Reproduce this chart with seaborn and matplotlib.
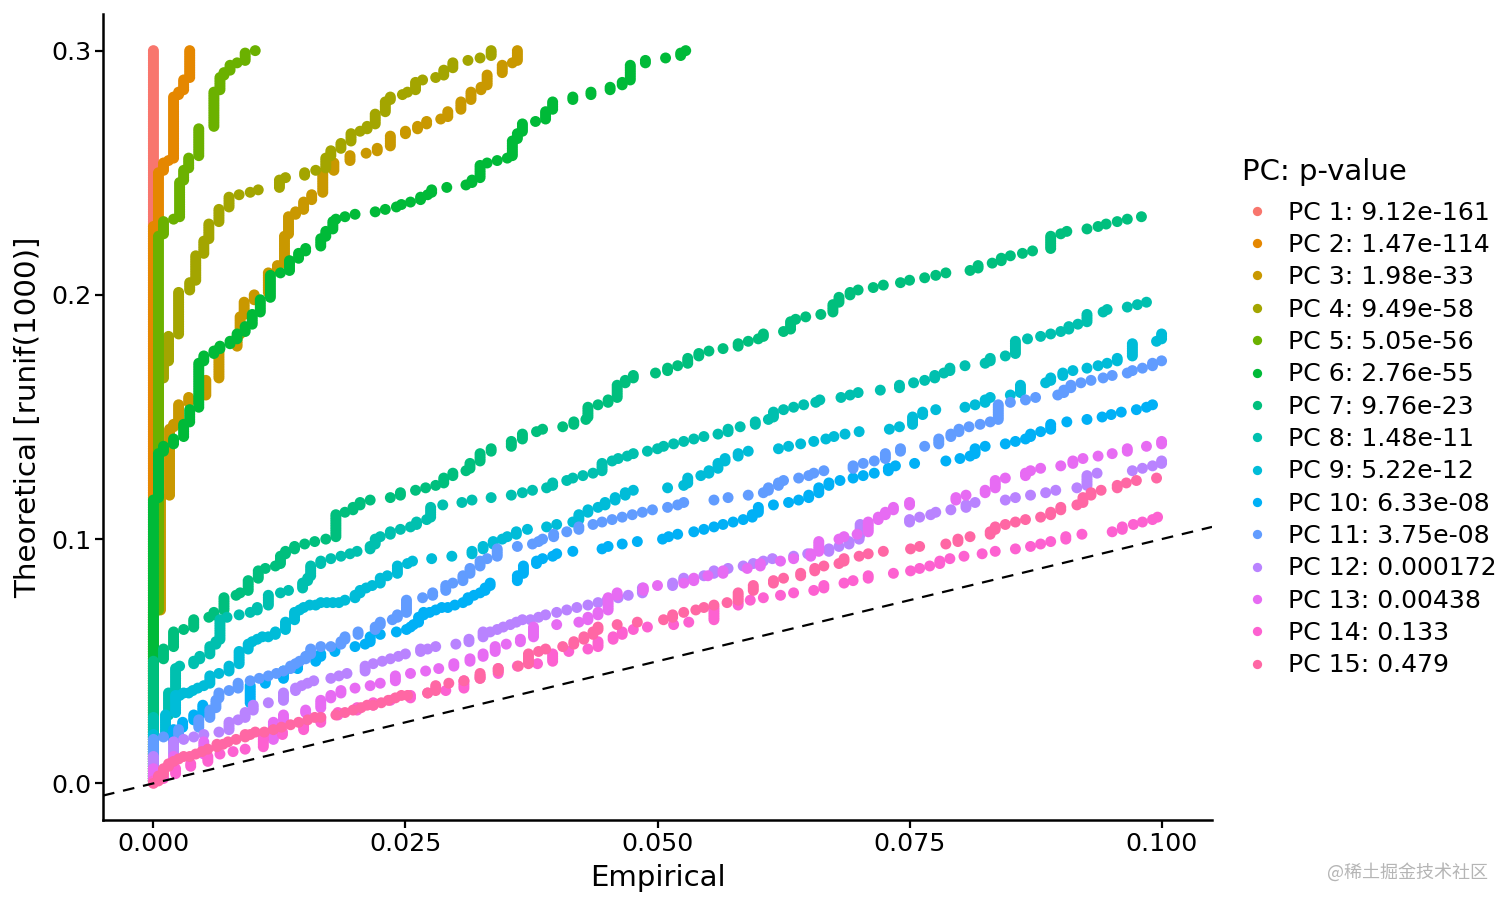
import matplotlib
matplotlib.use("Agg")
import numpy as np
import pandas as pd
import seaborn as sns
import matplotlib.pyplot as plt

# Each series: empirical value x, and the theoretical quantile y reached at that x
pc1_x = [0.0]
pc1_y = [.300]
pc2_x = [0, .0005, .001, .0015, .002, .0025, .003, .0036]
pc2_y = [.228, .250, .254, .255, .281, .283, .288, .300]
pc3_x = [0, .0007, .0016, .002, .0025, .0035, .0052, .0065, .0083, .0086, .009, .010, .0114, .0123, .013, .0134, .0141, .0149, .0157, .0168, .0179, .0195, .0211, .0222, .0235, .025, .0262, .0271, .0285, .0292, .0305, .0315, .0325, .0331, .0346, .0356, .0361]
pc3_y = [.070, .117, .145, .147, .155, .158, .165, .178, .183, .191, .197, .200, .209, .212, .224, .232, .234, .238, .241, .250, .254, .257, .258, .260, .265, .267, .269, .271, .272, .275, .279, .283, .285, .290, .294, .295, .300]
pc4_x = [0, .0005, .001, .0015, .0025, .0036, .0042, .005, .0055, .0065, .0075, .0085, .0096, .0104, .0125, .0131, .015, .0161, .0171, .0176, .0186, .0196, .0205, .0212, .022, .023, .0235, .0247, .0252, .026, .0267, .028, .0288, .0297, .0312, .0324, .0335]
pc4_y = [.100, .165, .172, .183, .201, .205, .216, .222, .229, .235, .240, .241, .242, .243, .247, .248, .250, .251, .256, .259, .262, .266, .267, .269, .274, .279, .281, .282, .283, .287, .288, .289, .292, .295, .296, .297, .300]
pc5_x = [0, .0005, .001, .002, .0026, .003, .0035, .0045, .006, .0066, .007, .0076, .0083, .0091, .0101]
pc5_y = [.070, .224, .230, .231, .246, .251, .256, .268, .283, .289, .291, .294, .295, .299, .300]
pc6_x = [0, .0005, .001, .002, .003, .0036, .0045, .005, .006, .0066, .0076, .0083, .0091, .0098, .0106, .0116, .0126, .0135, .0144, .0151, .0166, .0171, .0178, .0181, .019, .020, .022, .023, .0241, .0246, .0255, .0265, .0272, .0276, .0291, .031, .0316, .0324, .0331, .0341, .0351, .0356, .0361, .0366, .0379, .0389, .0396, .0416, .0434, .0453, .0465, .0473, .0488, .0508, .0523, .0528]
pc6_y = [.116, .135, .138, .141, .147, .153, .172, .175, .177, .179, .181, .184, .187, .192, .198, .208, .209, .214, .217, .219, .223, .226, .230, .231, .232, .233, .234, .235, .236, .237, .238, .240, .241, .243, .244, .245, .247, .253, .254, .255, .256, .263, .266, .270, .271, .275, .279, .281, .283, .285, .287, .294, .296, .297, .299, .300]
pc7_x = [0, .001, .002, .003, .004, .0055, .006, .007, .0082, .0086, .0094, .0104, .0111, .0121, .0126, .0131, .014, .015, .016, .0171, .0181, .019, .0198, .0205, .0215, .0235, .0245, .026, .027, .028, .0288, .0297, .031, .0314, .0324, .0335, .0355, .0366, .038, .0386, .0406, .0417, .0429, .0431, .0441, .0451, .046, .0468, .0476, .0498, .051, .052, .053, .0541, .0551, .0565, .058, .059, .060, .0605, .0625, .0632, .0637, .0647, .0662, .0674, .068, .0691, .0699, .0714, .0724, .0741, .075, .0765, .0776, .0786, .081, .0818, .0832, .0841, .085, .0862, .0872, .089, .090, .0906, .0926, .0937, .0945, .0956, .0966, .098]
pc7_y = [.050, .055, .062, .063, .067, .068, .070, .076, .077, .078, .083, .087, .088, .089, .093, .095, .097, .098, .099, .100, .110, .111, .113, .115, .116, .117, .119, .120, .121, .122, .125, .127, .128, .131, .135, .137, .140, .143, .144, .145, .146, .148, .149, .154, .155, .157, .163, .165, .167, .168, .170, .171, .174, .176, .177, .178, .180, .181, .182, .184, .185, .189, .190, .191, .192, .196, .199, .201, .202, .203, .204, .205, .206, .207, .208, .209, .210, .212, .213, .215, .216, .217, .218, .224, .225, .226, .227, .228, .229, .230, .231, .232]
pc8_x = [0, .0015, .0022, .0026, .004, .0046, .0056, .0062, .0066, .0073, .0085, .0096, .0103, .0114, .0126, .0134, .0148, .0153, .0156, .0166, .0176, .0186, .0195, .0202, .0215, .022, .0225, .0235, .0245, .0255, .0261, .0271, .0275, .0287, .0306, .0316, .0335, .0355, .0366, .0376, .039, .0396, .041, .0416, .0426, .0436, .0445, .0455, .0461, .047, .0476, .049, .050, .0506, .0516, .0526, .0536, .0546, .056, .057, .0582, .0597, .061, .0615, .0625, .0635, .0645, .0657, .0661, .0682, .0691, .0699, .0721, .074, .0754, .0765, .0775, .0784, .079, .0805, .0825, .083, .0845, .0855, .0867, .088, .089, .090, .0908, .0917, .0926, .0942, .0946, .0966, .0976, .0985]
pc8_y = [.027, .037, .047, .048, .050, .052, .056, .058, .067, .068, .069, .070, .072, .077, .078, .079, .082, .084, .089, .091, .092, .093, .094, .095, .097, .100, .101, .103, .104, .105, .107, .108, .113, .114, .115, .116, .117, .118, .119, .120, .121, .123, .124, .125, .126, .127, .131, .132, .133, .134, .135, .136, .137, .138, .139, .140, .141, .142, .143, .145, .146, .148, .149, .152, .153, .154, .155, .156, .157, .158, .159, .160, .161, .163, .164, .165, .167, .168, .170, .171, .172, .174, .175, .181, .182, .183, .184, .185, .187, .188, .192, .193, .194, .195, .196, .197]
pc9_x = [0, .0012, .0022, .0026, .003, .0035, .0039, .0044, .005, .0056, .0065, .0075, .0085, .0094, .0098, .0103, .0108, .0114, .0121, .0131, .014, .0145, .0149, .0155, .0161, .0166, .0172, .0178, .0184, .019, .020, .0205, .0211, .0217, .0225, .0232, .0242, .0252, .0257, .0276, .0296, .0316, .0327, .0337, .0346, .0351, .036, .0371, .039, .040, .0416, .0422, .0431, .0441, .0448, .0458, .0468, .0476, .051, .0526, .053, .0543, .0551, .056, .0567, .058, .059, .062, .063, .0642, .0655, .0667, .0675, .0686, .070, .073, .074, .0753, .0763, .0776, .0805, .0815, .0825, .083, .085, .086, .0885, .089, .0902, .0912, .0926, .0937, .0946, .0956, .0971, .0995, .100]
pc9_y = [.020, .028, .036, .036, .037, .037, .038, .039, .040, .044, .045, .048, .054, .057, .058, .059, .060, .060, .062, .066, .070, .071, .072, .073, .073, .074, .074, .074, .074, .075, .077, .079, .080, .081, .084, .085, .089, .090, .091, .092, .093, .095, .097, .099, .100, .101, .103, .104, .105, .106, .107, .110, .112, .113, .115, .117, .119, .120, .121, .122, .125, .126, .128, .131, .133, .135, .136, .137, .138, .139, .140, .141, .142, .143, .144, .145, .146, .150, .152, .153, .154, .155, .157, .158, .159, .163, .164, .166, .168, .169, .170, .171, .172, .174, .180, .181, .184]
pc10_x = [0, .002, .0029, .004, .0049, .0096, .0111, .0129, .0143, .0161, .0166, .018, .020, .021, .0215, .0225, .0241, .0251, .0255, .0258, .0263, .0268, .0274, .028, .0286, .0292, .0299, .0307, .0312, .0318, .0324, .0329, .0334, .0361, .0367, .038, .0386, .0396, .040, .0416, .0445, .0451, .0465, .048, .0505, .0511, .052, .0536, .0546, .0556, .0565, .0575, .0585, .0594, .060, .0615, .063, .064, .065, .066, .067, .0681, .0694, .0704, .0715, .0729, .0736, .0755, .0786, .080, .081, .0815, .0825, .0845, .0855, .0865, .087, .088, .089, .0906, .0926, .0941, .095, .096, .0975, .0985, .0991]
pc10_y = [.016, .022, .025, .028, .032, .040, .042, .046, .049, .051, .053, .055, .056, .057, .060, .061, .062, .063, .064, .065, .068, .070, .070, .071, .072, .072, .073, .074, .076, .077, .078, .080, .082, .085, .089, .091, .092, .093, .094, .095, .096, .097, .098, .099, .100, .101, .102, .103, .104, .105, .106, .107, .108, .110, .113, .114, .115, .116, .118, .121, .123, .124, .125, .126, .127, .129, .130, .131, .132, .133, .134, .137, .138, .139, .140, .141, .143, .144, .147, .148, .149, .150, .151, .152, .153, .154, .155]
pc11_x = [0, .001, .0025, .0045, .0056, .0062, .0065, .0075, .0084, .0096, .0105, .0114, .0122, .0129, .0136, .0141, .0145, .0151, .0156, .0166, .0176, .0186, .019, .0203, .022, .0225, .0237, .0242, .0251, .0267, .0277, .029, .0297, .0307, .0314, .0324, .0331, .0341, .0361, .0376, .0382, .0386, .0397, .041, .0422, .0436, .0445, .0455, .0465, .0475, .0485, .0495, .051, .052, .0526, .0556, .057, .059, .0605, .061, .062, .0625, .064, .065, .0655, .0665, .0694, .0704, .0715, .0726, .0741, .0765, .0779, .0791, .0799, .0809, .082, .083, .0838, .085, .0865, .0875, .0897, .0903, .091, .092, .093, .0942, .0951, .0966, .0971, .0981, .0991, .100]
pc11_y = [.018, .019, .022, .026, .030, .034, .037, .038, .041, .042, .043, .044, .045, .046, .048, .049, .050, .052, .055, .056, .056, .058, .060, .062, .064, .066, .067, .069, .075, .076, .078, .081, .082, .085, .088, .091, .092, .096, .097, .098, .099, .100, .102, .103, .105, .106, .107, .108, .109, .110, .111, .112, .113, .114, .115, .116, .117, .118, .119, .121, .123, .124, .125, .126, .127, .128, .130, .131, .132, .135, .137, .138, .141, .143, .145, .146, .147, .148, .155, .156, .157, .158, .159, .161, .163, .164, .165, .166, .167, .168, .169, .170, .172, .173]
pc12_x = [0, .002, .003, .004, .005, .0065, .0075, .0084, .0091, .0099, .0114, .0129, .0141, .0147, .0153, .0159, .0176, .0184, .0192, .021, .0218, .0227, .0235, .0243, .025, .0265, .0272, .028, .030, .0313, .0327, .0334, .0341, .0347, .0354, .036, .0366, .0374, .0382, .0389, .040, .041, .042, .0431, .0441, .045, .0461, .0471, .0485, .0515, .0526, .0546, .0556, .057, .0585, .0595, .0605, .0614, .0635, .0649, .067, .068, .069, .070, .0701, .075, .076, .0771, .0776, .0791, .0806, .0815, .0845, .0855, .087, .0885, .0895, .0916, .0926, .0936, .0971, .0981, .0991, .100]
pc12_y = [.011, .017, .018, .019, .020, .021, .025, .026, .029, .032, .033, .037, .039, .040, .041, .042, .043, .044, .045, .048, .049, .050, .051, .052, .053, .055, .055, .056, .057, .059, .062, .062, .063, .064, .065, .066, .067, .067, .068, .069, .070, .071, .072, .073, .074, .075, .076, .077, .080, .082, .084, .085, .087, .088, .089, .090, .091, .092, .093, .094, .096, .097, .099, .101, .106, .108, .109, .110, .111, .112, .114, .115, .116, .117, .118, .119, .120, .121, .126, .127, .128, .129, .130, .132]
pc13_x = [0, .002, .005, .0119, .0129, .0151, .0166, .0176, .0186, .020, .0215, .0225, .024, .0255, .027, .0283, .0298, .0314, .0327, .0339, .035, .0364, .0377, .040, .0422, .0431, .0441, .0451, .046, .0486, .050, .0526, .0536, .055, .0565, .0589, .0602, .0622, .0635, .0652, .066, .068, .0685, .0698, .0709, .0719, .0726, .0734, .075, .0796, .0806, .0825, .0835, .0845, .0865, .087, .088, .090, .0912, .0922, .0937, .0951, .0966, .0985, .100]
pc13_y = [.006, .011, .017, .025, .028, .030, .034, .036, .038, .039, .040, .041, .044, .045, .046, .047, .049, .051, .053, .056, .057, .059, .064, .065, .066, .068, .070, .076, .078, .080, .081, .082, .084, .085, .087, .088, .090, .091, .092, .094, .099, .100, .101, .102, .107, .109, .111, .113, .115, .117, .118, .120, .124, .125, .127, .128, .129, .130, .132, .133, .134, .135, .137, .138, .140]
pc14_x = [0, .001, .0022, .0037, .0054, .0066, .0079, .0091, .0109, .0128, .0149, .0166, .0183, .0202, .0218, .0235, .0255, .0272, .029, .0308, .0324, .0342, .0361, .0381, .0396, .0412, .0431, .0441, .0456, .0465, .0476, .049, .0516, .0531, .0556, .058, .0592, .0605, .0622, .0635, .0655, .0665, .0685, .0694, .0709, .0734, .0751, .076, .077, .078, .079, .0804, .0822, .0835, .0855, .087, .088, .089, .0905, .0921, .0951, .0961, .0972, .0981, .0991, .0996]
pc14_y = [.001, .003, .006, .008, .011, .012, .013, .014, .019, .021, .024, .027, .029, .031, .033, .034, .036, .037, .038, .042, .044, .047, .048, .049, .053, .054, .055, .058, .060, .062, .063, .064, .065, .066, .072, .074, .075, .076, .077, .078, .079, .081, .082, .083, .085, .086, .087, .088, .089, .091, .092, .093, .094, .095, .096, .097, .098, .099, .101, .102, .103, .105, .106, .107, .108, .109]
pc15_x = [0, .0005, .001, .0015, .002, .0025, .003, .0036, .0042, .0048, .0054, .0063, .0069, .0074, .0082, .0091, .0096, .0101, .011, .0119, .0127, .0136, .0144, .0153, .016, .0166, .0181, .019, .0198, .0206, .0212, .0218, .0226, .0233, .024, .0246, .0252, .0272, .028, .0293, .0308, .0324, .0342, .0362, .0372, .0382, .0389, .0406, .0417, .0427, .0436, .0441, .046, .048, .0506, .0515, .0526, .0538, .0546, .0556, .0569, .058, .0595, .0615, .0625, .0642, .0656, .0665, .068, .0685, .070, .0709, .0724, .0751, .076, .0786, .0798, .081, .083, .0835, .0845, .0855, .0865, .088, .089, .090, .0916, .0922, .093, .094, .0956, .0965, .0975, .0995]
pc15_y = [.000, .003, .006, .008, .009, .010, .011, .011, .012, .013, .014, .016, .016, .017, .018, .020, .020, .021, .021, .022, .023, .024, .025, .026, .027, .027, .028, .029, .030, .031, .032, .032, .033, .034, .035, .036, .036, .037, .040, .041, .042, .045, .047, .048, .053, .054, .055, .056, .058, .060, .062, .064, .065, .066, .067, .069, .070, .071, .072, .073, .074, .078, .081, .083, .084, .086, .088, .089, .090, .092, .093, .094, .095, .096, .097, .098, .100, .101, .103, .105, .106, .107, .108, .109, .111, .113, .114, .117, .119, .120, .122, .123, .124, .125]

pvalues = ["9.12e-161", "1.47e-114", "1.98e-33", "9.49e-58", "5.05e-56", "2.76e-55", "9.76e-23",
           "1.48e-11", "5.22e-12", "6.33e-08", "3.75e-08", "0.000172", "0.00438", "0.133", "0.479"]
colors = ["#F8766D", "#E58700", "#C99800", "#A3A500", "#6BB100", "#00BA38", "#00BF7D", "#00C0AF",
          "#00BCD8", "#00B0F6", "#619CFF", "#B983FF", "#E76BF3", "#FD61D1", "#FF67A4"]
series_x = [pc1_x, pc2_x, pc3_x, pc4_x, pc5_x, pc6_x, pc7_x, pc8_x, pc9_x, pc10_x, pc11_x, pc12_x, pc13_x, pc14_x, pc15_x]
series_y = [pc1_y, pc2_y, pc3_y, pc4_y, pc5_y, pc6_y, pc7_y, pc8_y, pc9_y, pc10_y, pc11_y, pc12_y, pc13_y, pc14_y, pc15_y]
labels = [f"PC {i + 1}: {p}" for i, p in enumerate(pvalues)]

rows = []
for lab, xs, ys in zip(labels, series_x, series_y):
    prev = 0
    for x, y in zip(xs, ys):
        k = int(round(y * 1000))
        # ties: every runif(1000) quantile reached at the same empirical value
        levels = range(prev + 1, k + 1) if k > prev else [k]
        rows += [(x, lv / 1000, lab) for lv in levels]
        prev = max(prev, k)
df = pd.DataFrame(rows, columns=["Empirical", "Theoretical", "PC"])

sns.set_theme(style="ticks")
plt.rcParams["font.family"] = ["DejaVu Sans"]
fig = plt.figure(figsize=(15.12, 9.07), dpi=100)
ax = fig.add_axes([103 / 1512, 1 - 820 / 907, (1212 - 103) / 1512, (820 - 14) / 907])

sns.scatterplot(data=df, x="Empirical", y="Theoretical", hue="PC", hue_order=labels,
                palette=colors, s=62, linewidth=0, alpha=1, ax=ax, legend=True, zorder=3)
ax.axline((0, 0), slope=1, color="black", lw=1.6, dashes=(5.25, 4), zorder=4)

ax.set_xlim(-0.005, 0.105)
ax.set_ylim(-0.015, 0.315)
ax.set_xticks([0, 0.025, 0.05, 0.075, 0.1])
ax.set_xticklabels(["0.000", "0.025", "0.050", "0.075", "0.100"])
ax.set_yticks([0, 0.1, 0.2, 0.3])
ax.set_yticklabels(["0.0", "0.1", "0.2", "0.3"])
ax.tick_params(labelsize=18.3, length=6, width=1.6, color="black", labelcolor="black", pad=2.3)
ax.set_xlabel("Empirical", fontsize=21, color="black", labelpad=6.2)
ax.set_ylabel("Theoretical [runif(1000)]", fontsize=21.2, color="black", labelpad=6.6)
for side in ["top", "right"]:
    ax.spines[side].set_visible(False)
for side in ["left", "bottom"]:
    ax.spines[side].set_linewidth(1.8)
    ax.spines[side].set_color("black")

leg = ax.legend(title="PC: p-value", loc="upper left", bbox_to_anchor=(1.027, 0.8215),
                frameon=False, fontsize=18.1, title_fontsize=21, labelspacing=0.332,
                handlelength=1.19, handletextpad=0.63, borderpad=0, borderaxespad=0, markerscale=0.85)
leg._legend_box.align = "left"
leg._legend_box.sep = 10.6
for t in leg.get_texts():
    t.set_color("black")
leg.get_title().set_color("black")

fig.text(1488 / 1512, 1 - 872 / 907, "@稀土掘金技术社区", ha="right", va="center", fontsize=13,
         color="#b5b5b5", family=["Noto Sans CJK SC", "DejaVu Sans"])

fig.savefig("out.png", dpi=100, facecolor="white")
